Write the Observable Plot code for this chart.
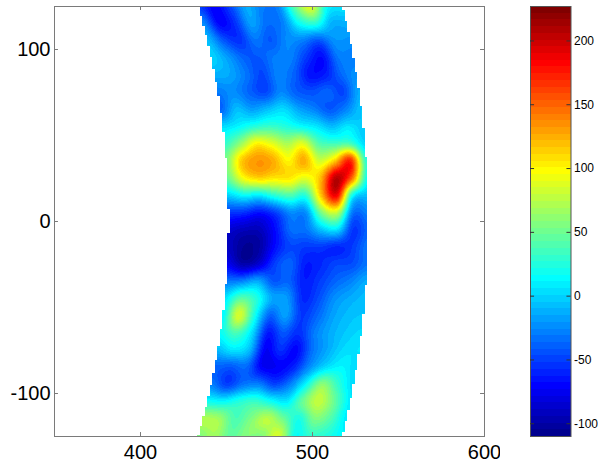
<!DOCTYPE html>
<html>
<head>
<meta charset="utf-8">
<script src="https://cdn.jsdelivr.net/npm/d3@7"></script>
<script src="https://cdn.jsdelivr.net/npm/@observablehq/plot@0.6"></script>
<style>
html,body{margin:0;padding:0;background:#fff;}
#wrap{position:relative;width:598px;height:464px;overflow:hidden;font-family:"Liberation Sans",Arial,sans-serif;}
#wrap svg{position:absolute;top:0;}
</style>
</head>
<body>
<div id="wrap"></div>
<script>
// Sample values: rows are y, columns are radius
const rowY = [125,115,105,95,85,75,65,55,45,35,25,15,5,-5,-15,-25,-35,-45,-55,-65,-75,-85,-95,-105,-115,-125];
const radii = [451,460,469,478,487,496,505,514,523,532];
const values = [
  [-50,-72,-48,-14,-30,-25,45,90,15,5],
  [-25,-70,-55,-18,-35,-28,15,28,-10,-12],
  [-8,-42,-55,-32,-42,-25,-28,-42,-22,-22],
  [0,-18,-38,-42,-30,-28,-52,-68,-32,-28],
  [-12,-16,-32,-48,-28,-38,-65,-62,-38,-22],
  [-30,-24,-38,-48,-26,-40,-45,-38,-48,-14],
  [-38,-8,-18,-8,2,-16,-28,-42,-28,-5],
  [2,12,25,32,25,15,6,-8,6,-4],
  [30,62,100,90,70,88,42,35,38,2],
  [55,115,132,125,100,125,82,115,170,28],
  [48,95,112,105,105,90,120,205,150,18],
  [0,15,10,28,40,28,118,185,20,-8],
  [-52,-55,-65,-50,-24,-22,55,80,-30,-28],
  [-85,-92,-92,-68,-35,-32,-5,5,-52,-38],
  [-90,-105,-100,-68,-48,-52,-52,-58,-52,-32],
  [-75,-98,-85,-52,-38,-62,-58,-48,-46,-32],
  [-32,-28,-15,-42,-38,-62,-52,-38,-28,-14],
  [6,42,25,-14,-20,-58,-46,-24,-14,-8],
  [12,85,22,-38,-18,-52,-38,-18,-8,-4],
  [16,38,4,-62,-42,-56,-30,-14,-4,2],
  [-8,6,-8,-72,-56,-70,-34,-14,2,6],
  [-38,-42,-36,-72,-72,-60,-24,2,12,2],
  [-28,-50,-32,-28,-48,-28,15,60,30,2],
  [18,14,25,32,18,8,48,78,48,8],
  [72,66,38,55,75,50,22,55,40,8],
  [55,68,45,58,58,85,18,30,25,12]
];
const xTicks = [400,500,600];
const yTicks = [-100,0,100];
const barTicks = [-100,-50,0,50,100,150,200];
const colorRange = [-110,227];
const jetStops = ["#00008f","#0000ff","#00ffff","#ffff00","#ff0000","#800000"];
const jetStopAt = [0,7,23,39,55,63];
const nLevels = 64;

const jet = d3.scaleLinear().domain(jetStopAt).range(jetStops).interpolate(d3.interpolateRgb);
const jetColors = d3.range(nLevels).map(k => d3.rgb(jet(k)).formatHex());
const levelStep = (colorRange[1]-colorRange[0])/nLevels;
const thresholds = d3.range(1,nLevels).map(k => colorRange[0]+k*levelStep);
const levels = d3.range(nLevels).map(k => ({lo:colorRange[0]+k*levelStep, hi:colorRange[0]+(k+1)*levelStep, c:jetColors[k]}));

const colorScale = {type:"threshold",domain:thresholds,range:jetColors};
const axisGrey = "#7a7a7a";
const font = '"Liberation Sans",Arial,sans-serif';
const plain = d => String(d);

function cr(p0,p1,p2,p3,t){
  return 0.5*(2*p1+(p2-p0)*t+(2*p0-5*p1+4*p2-p3)*t*t+(3*p1-p0-3*p2+p3)*t*t*t);
}
function lookup(r,y){
  const dr = radii[1]-radii[0], dy = rowY[0]-rowY[1];
  const fc = Math.min(radii.length-1.0001,Math.max(0,(r-radii[0])/dr));
  const fr = Math.min(rowY.length-1.0001,Math.max(0,(rowY[0]-y)/dy));
  const c = Math.floor(fc), w = Math.floor(fr), tc = fc-c, tr = fr-w;
  const at = (i,j) => values[Math.max(0,Math.min(rowY.length-1,i))][Math.max(0,Math.min(radii.length-1,j))];
  const col = j => cr(at(w-1,j),at(w,j),at(w+1,j),at(w+2,j),tr);
  return cr(col(c-1),col(c),col(c+1),col(c+2),tc);
}
const edgeStep = 1.45;
function field(x,y){
  const xq = Math.round(x/edgeStep)*edgeStep;
  const rq = Math.hypot(xq,y);
  if (rq < radii[0] || rq > radii[radii.length-1]) return NaN;
  return lookup(Math.hypot(x,y),y);
}

const main = Plot.plot({
  width:500,height:464,
  marginLeft:54,marginRight:16,marginTop:6,marginBottom:28,
  style:{background:"transparent",fontFamily:font},
  x:{domain:[350,600]},
  y:{domain:[-125,125]},
  color:colorScale,
  marks:[
    Plot.raster({fill:(x,y)=>field(x,y),x1:350,x2:600,y1:-125,y2:125,width:430,height:430,imageRendering:"pixelated"}),
    Plot.frame({stroke:axisGrey}),
    Plot.ruleX(xTicks,{y1:-125,y2:-122.7,stroke:axisGrey}),
    Plot.ruleX(xTicks,{y1:125,y2:122.7,stroke:axisGrey}),
    Plot.ruleY(yTicks,{x1:350,x2:352.3,stroke:axisGrey}),
    Plot.ruleY(yTicks,{x1:600,x2:597.7,stroke:axisGrey}),
    Plot.axisX(xTicks,{anchor:"bottom",tickSize:0,tickPadding:8,label:null,fontSize:20,fill:"#000",tickFormat:plain}),
    Plot.axisY(yTicks,{anchor:"left",tickSize:0,tickPadding:4,label:null,fontSize:20,fill:"#000",tickFormat:plain})
  ]
});
main.style.left = "0px";

const bar = Plot.plot({
  width:98,height:464,
  marginLeft:30,marginRight:27.5,marginTop:6,marginBottom:28,
  style:{background:"transparent",fontFamily:font},
  x:{domain:[0,1],axis:null},
  y:{domain:colorRange},
  marks:[
    Plot.rect(levels,{x1:0,x2:1,y1:"lo",y2:"hi",fill:"c",shapeRendering:"crispEdges"}),
    Plot.frame({stroke:"#555"}),
    Plot.ruleY(barTicks,{x1:0,x2:0.1,stroke:"#333"}),
    Plot.ruleY(barTicks,{x1:1,x2:0.9,stroke:"#333"}),
    Plot.axisY(barTicks,{anchor:"right",tickSize:0,tickPadding:3,label:null,fontSize:12,fill:"#000",tickFormat:plain})
  ]
});
bar.style.left = "500px";

const wrap = document.getElementById("wrap");
wrap.append(main,bar);
</script>
</body>
</html>
